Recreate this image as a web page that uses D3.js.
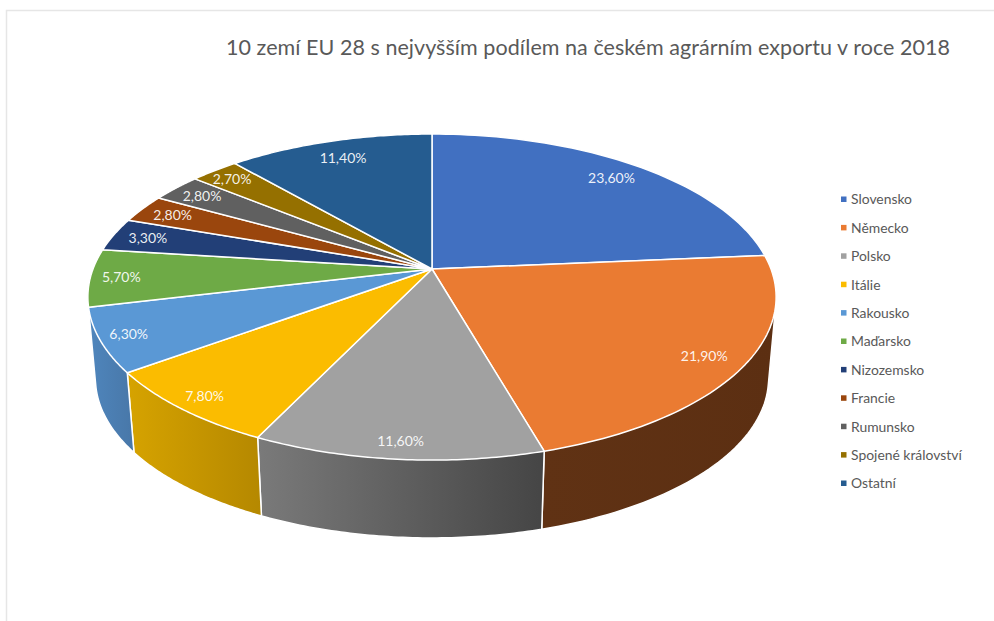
<!DOCTYPE html>
<html>
<head>
<meta charset="utf-8">
<script src="https://cdn.jsdelivr.net/npm/d3@7"></script>
<style>
html, body { margin: 0; padding: 0; background: #fff; }
svg { display: block; }
text { font-family: Lato, "Open Sans", sans-serif; }
</style>
</head>
<body>
<script>
"use strict";
const title = "10 zemí EU 28 s nejvyšším podílem na českém agrárním exportu v roce 2018";
const countries = ["Slovensko", "Německo", "Polsko", "Itálie", "Rakousko", "Maďarsko", "Nizozemsko", "Francie", "Rumunsko", "Spojené království", "Ostatní"];
const shares = [23.6, 21.9, 11.6, 7.8, 6.3, 5.7, 3.3, 2.8, 2.8, 2.7, 11.4];
const colors = ["#4170c1", "#ea7b32", "#a1a1a1", "#fbbc00", "#5a98d5", "#6eaa46", "#223f77", "#9a460d", "#606060", "#957000", "#255c90"];
// only these slices show a wall; gradient colours run left to right
const walls = ["Německo", "Polsko", "Itálie", "Rakousko"];
const sideLeft = ["#603214", "#7a7a7a", "#d6a300", "#4f86bd"];
const sideRight = ["#5c2f12", "#454545", "#b58800", "#4877a8"];
const labelR = [0.87, 0.89, 0.92, 0.92, 0.92, 0.91, 0.89, 0.89, 0.89, 0.91, 0.85];

const w = 994;
const h = 621;
const cx = 432;
const cy = 269;
// the disc is drawn in perspective: k tilts it, a and b are the flat half axes
const a = 339;
const b = 158.2;
const k = 0.172;
// bottom rim = top rim pulled towards a far vanishing point
const s = 0.978;
const vy = 4000;
// angle where the rim turns away on the left, the last wall has to reach it
const leftEdge = 2 * Math.PI - Math.acos(-k);

const svg = d3.select("body").append("svg").attr("width", w).attr("height", h);
const defs = svg.append("defs");

const project = (angle, r) => {
	const u = r * Math.sin(angle);
	const v = -r * Math.cos(angle);
	const d = 1 - k * v;
	return [cx + a * u / d, cy + b * v / d];
};
const lower = p => [cx + (p[0] - cx) * s, vy + (p[1] - vy) * s];
const rim = (from, to) => d3.range(0, 61).map(i => project(from + (to - from) * i / 60, 1));
const line = d3.line().curve(d3.curveLinearClosed);

const arcs = d3.pie().sort(null).value(d => d)(shares);

svg.append("path").attr("d", "M6.5 621V10.5H994").attr("fill", "none").attr("stroke", "#e6e6e6").attr("stroke-width", 1.5);

walls.forEach((name, i) => {
	const d = arcs[countries.indexOf(name)];
	const last = i == walls.length - 1;
	const top = rim(d.startAngle, last ? leftEdge : d.endAngle);
	const pts = top.concat(top.map(lower));
	const xs = pts.map(p => p[0]);
	const grad = defs.append("linearGradient").attr("id", "side" + i).attr("gradientUnits", "userSpaceOnUse")
	.attr("x1", d3.min(xs)).attr("x2", d3.max(xs)).attr("y1", 0).attr("y2", 0);
	grad.append("stop").attr("offset", 0).attr("stop-color", sideLeft[i]);
	grad.append("stop").attr("offset", 1).attr("stop-color", sideRight[i]);
	svg.append("path").attr("d", line(d3.polygonHull(pts)))
	.attr("fill", "url(#side" + i + ")").attr("stroke", "#fff").attr("stroke-width", 1.5).attr("stroke-linejoin", "round");
});

svg.append("g").selectAll("path").data(arcs).enter().append("path")
.attr("d", d => line([[cx, cy]].concat(rim(d.startAngle, d.endAngle))))
.attr("fill", (d, i) => colors[i]).attr("stroke", "#fff").attr("stroke-width", 1.5).attr("stroke-linejoin", "round");

svg.append("g").selectAll("text").data(arcs).enter().append("text")
.attr("x", (d, i) => project((d.startAngle + d.endAngle) / 2, labelR[i])[0])
.attr("y", (d, i) => project((d.startAngle + d.endAngle) / 2, labelR[i])[1])
.attr("dy", "0.35em").attr("text-anchor", "middle").attr("font-size", 14).attr("fill", "#fff").attr("fill-opacity", 0.92)
.text(d => d3.format(".2f")(d.value).replace(".", ",") + "%");

svg.append("text").attr("x", 226).attr("y", 55).attr("font-size", 21.5).attr("fill", "#595959").attr("textLength", 724).text(title);

const legendY = d3.scalePoint().domain(countries).range([199.5, 483.5]);
const legend = svg.append("g").selectAll("g").data(countries).enter().append("g")
.attr("transform", d => "translate(841," + legendY(d) + ")");
legend.append("rect").attr("x", 0).attr("y", -3).attr("width", 5.5).attr("height", 5.5).attr("fill", (d, i) => colors[i]);
legend.append("text").attr("x", 10).attr("dy", "0.35em").attr("font-size", 13.9).attr("fill", "#595959").text(d => d);
</script>
</body>
</html>
